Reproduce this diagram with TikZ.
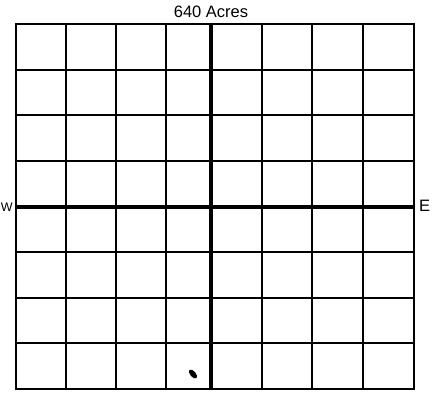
\documentclass[tikz,border=0pt]{standalone}
\usepackage{fontspec}
\setmainfont{Liberation Sans}
\begin{document}
\begin{tikzpicture}[x=1pt,y=-1pt,
  thinline/.style={line width=2pt,black},
  thickline/.style={line width=4pt,black},
  lbl/.style={font=\fontsize{16.5}{16.5}\selectfont,inner sep=0pt}]
\useasboundingbox (0,0) rectangle (433,393);
% grid lines
\foreach \x in {66,116,166,262,312,363}{
  \draw[thinline] (\x,24) -- (\x,389);
}
\foreach \y in {70,115,161,252,298,343}{
  \draw[thinline] (16,\y) -- (414,\y);
}
\coordinate (top) at (211,24);
\coordinate (bot) at (211,389);
\coordinate (lft) at (16,207);
\coordinate (rgt) at (414,207);
\draw[thickline] (top) -- (bot);
\draw[thickline] (lft) -- (rgt);
\draw[line width=2.4pt] (16,24) rectangle (414,389);
\node[lbl] (title) at (211,12) {640 Acres};
\node[lbl,font=\fontsize{12.5}{12.5}\selectfont,anchor=west] (w) at (0.6,207) {W};
\node[lbl,anchor=west] (e) at (419,206) {E};
\fill[black,rotate around={-50:(193,374)}] (193,374) ellipse [x radius=5.5pt, y radius=2.8pt];
\end{tikzpicture}
\end{document}
